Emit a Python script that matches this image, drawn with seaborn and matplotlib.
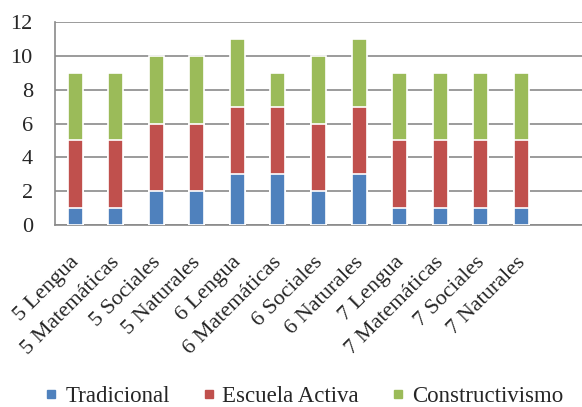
import numpy as np
import pandas as pd
import matplotlib
matplotlib.use('Agg')
import matplotlib.pyplot as plt
import matplotlib.transforms as mtransforms
from matplotlib.lines import Line2D
import seaborn as sns

# Data
categorias = ['5 Lengua', '5 Matemáticas', '5 Sociales', '5 Naturales',
              '6 Lengua', '6 Matemáticas', '6 Sociales', '6 Naturales',
              '7 Lengua', '7 Matemáticas', '7 Sociales', '7 Naturales']
tradicional = [1, 1, 2, 2, 3, 3, 2, 3, 1, 1, 1, 1]
escuela_activa = [4, 4, 4, 4, 4, 4, 4, 4, 4, 4, 4, 4]
constructivismo = [4, 4, 4, 4, 4, 2, 4, 4, 4, 4, 4, 4]
series = ['Tradicional', 'Escuela Activa', 'Constructivismo']
colores = ['#4F81BD', '#C0504D', '#9BBB59']


def main():
    sns.set_style('white')
    plt.rcParams['font.family'] = ['Liberation Serif', 'DejaVu Serif']

    df = pd.DataFrame({'cat': categorias, 'Tradicional': tradicional,
                       'Escuela Activa': escuela_activa,
                       'Constructivismo': constructivismo})
    # cumulative tops for layered stacking
    df['top_trad'] = df['Tradicional']
    df['top_esc'] = df['top_trad'] + df['Escuela Activa']
    df['top_con'] = df['top_esc'] + df['Constructivismo']

    fig = plt.figure(figsize=(5.82, 4.07), dpi=100)
    ax = fig.add_axes([0.0945, 0.447, 0.9055, 0.499])

    for col, color in zip(['top_con', 'top_esc', 'top_trad'], colores[::-1]):
        sns.barplot(data=df, x='cat', y=col, order=categorias, color=color,
                    width=0.37, edgecolor='white', linewidth=1.2,
                    saturation=1, ax=ax, zorder=3)

    ax.set_xlim(-0.5, 12.3)
    ax.set_ylim(0, 12)
    ax.set_yticks(range(0, 13, 2))
    ax.set_xlabel('')
    ax.set_ylabel('')

    ax.grid(axis='y', color='#8a8a8a', linewidth=1.2, zorder=0)
    ax.set_axisbelow(True)
    for s in ['top', 'right']:
        ax.spines[s].set_visible(False)
    ax.spines['left'].set_color('#8a8a8a')
    ax.spines['bottom'].set_color('#8a8a8a')
    ax.spines['left'].set_linewidth(1.2)
    ax.spines['bottom'].set_linewidth(1.2)

    ax.tick_params(axis='y', length=6, color='#8a8a8a', width=1.2,
                   labelsize=16, pad=10)
    ax.set_xticks(np.arange(len(categorias)))
    ax.set_xticklabels(categorias, rotation=45, ha='right',
                       rotation_mode='anchor', fontsize=16)
    ax.tick_params(axis='x', which='major', length=0, pad=20)
    ax.set_xticks(np.arange(-0.5, 12.6, 1), minor=True)
    ax.tick_params(axis='x', which='minor', length=5, color='#8a8a8a',
                   width=1.2)
    # nudge the rotated labels a little to the left
    shift = mtransforms.ScaledTranslation(-4 / 72, 0, fig.dpi_scale_trans)
    for lbl in ax.get_xticklabels():
        lbl.set_transform(lbl.get_transform() + shift)

    handles = [Line2D([0], [0], marker='s', linestyle='', markersize=6,
                      markerfacecolor=c, markeredgecolor=c) for c in colores]
    fig.legend(handles, series, loc='center', bbox_to_anchor=(0.522, 0.025),
               ncol=3, frameon=False, fontsize=16.5, handlelength=0.6,
               handletextpad=0.3, columnspacing=1.4, borderpad=0)

    plt.savefig('out.png', dpi=100)


if __name__ == "__main__":
    main()
